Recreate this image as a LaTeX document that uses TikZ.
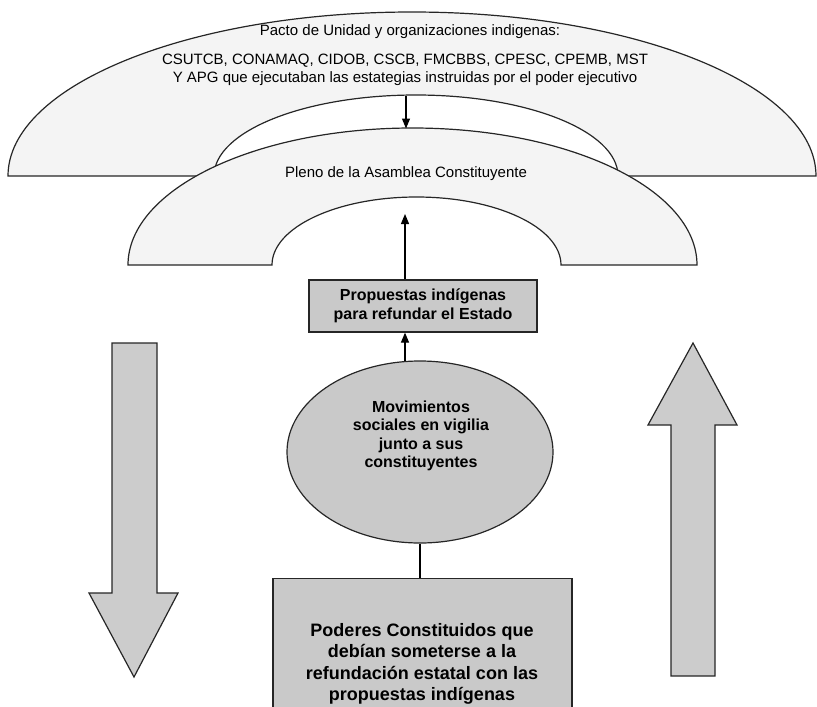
\documentclass[tikz,border=0pt]{standalone}
\usepackage{fontspec}
\setmainfont{Liberation Sans}
\usetikzlibrary{arrows.meta,shapes.geometric}
\definecolor{archfill}{gray}{0.955}
\definecolor{boxfill}{gray}{0.79}
\definecolor{bigarrow}{gray}{0.80}
\tikzset{
  shapeline/.style={draw=black!85, line width=1.2pt},
  conn/.style={draw=black, line width=1.2pt, -{Triangle[length=10pt,width=8pt]}},
  plainconn/.style={draw=black, line width=1.2pt},
  boxnode/.style={shapeline, fill=boxfill, align=center, font=\bfseries\fontsize{16}{19}\selectfont, inner sep=0pt},
  archtext/.style={align=center, font=\fontsize{15}{18}\selectfont, inner sep=0pt},
}
\begin{document}
\begin{tikzpicture}[x=1pt,y=1pt]
\useasboundingbox (0,-707) rectangle (817,0);
\clip (0,-707) rectangle (817,0);
% top arch
\draw[shapeline, fill=archfill] (8,-176) arc[start angle=180, end angle=0, x radius=404, y radius=164]
  -- (618,-176) arc[start angle=0, end angle=180, x radius=202, y radius=81] -- cycle;
% Pleno arch
\draw[shapeline, fill=archfill] (128,-265) arc[start angle=180, end angle=0, x radius=284.5, y radius=137]
  -- (561,-265) arc[start angle=0, end angle=180, x radius=144.5, y radius=68] -- cycle;
\node[archtext] (pacto) at (410,-32) {Pacto de Unidad y organizaciones indigenas:};
\node[archtext] (orgs) at (405,-70) {CSUTCB, CONAMAQ, CIDOB, CSCB, FMCBBS, CPESC, CPEMB, MST\\Y APG que ejecutaban las estategias instruidas por el poder ejecutivo};
\node[archtext] (pleno) at (406,-174) {Pleno de la Asamblea Constituyente};
\coordinate (topinner) at (406,-95.5);
\coordinate (plenotop) at (406,-128.5);
\coordinate (plenoinner) at (405,-214);
% boxes
\node[boxnode, minimum width=228pt, minimum height=52pt] (prop) at (423,-306) {Propuestas indígenas\\para refundar el Estado};
\node[ellipse, shapeline, fill=boxfill, minimum width=266pt, minimum height=182pt, inner sep=0pt] (mov) at (420,-452) {};
\node[align=center, font=\bfseries\fontsize{16}{18.5}\selectfont, inner sep=0pt] (movt) at (421,-436) {Movimientos\\sociales en vigilia\\junto a sus\\constituyentes};
\node[boxnode, minimum width=299pt, minimum height=160pt, anchor=north] (pod) at (422.5,-578) {};
\node[align=center, font=\bfseries\fontsize{18}{21.5}\selectfont, inner sep=0pt] (podt) at (422,-664) {Poderes Constituidos que\\debían someterse a la\\refundación estatal con las\\propuestas indígenas};
% connectors
\draw[conn] (topinner) -- (plenotop);
\draw[conn] (prop.north -| plenoinner) -- (plenoinner);
\draw[conn] (mov.north -| 405,0) ++(0,-0.5) -- (prop.south -| 405,0);
\draw[plainconn] (mov.south) -- (pod.north -| mov.south);
% big arrows
\draw[shapeline, fill=bigarrow] (112,-343) -- (157,-343) -- (157,-593) -- (178,-593) -- (134,-677) -- (89,-593) -- (112,-593) -- cycle;
\draw[shapeline, fill=bigarrow] (671,-676) -- (715,-676) -- (715,-425) -- (737,-425) -- (693,-343) -- (648,-425) -- (671,-425) -- cycle;
\end{tikzpicture}
\end{document}
